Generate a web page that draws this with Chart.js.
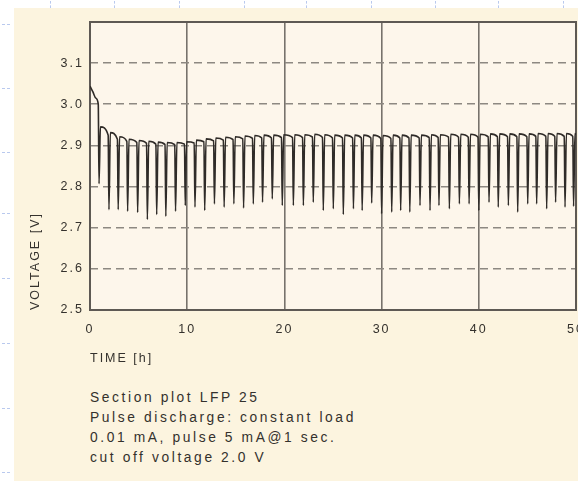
<!DOCTYPE html>
<html><head><meta charset="utf-8">
<script src="https://cdn.jsdelivr.net/npm/chart.js@4.4.1/dist/chart.umd.min.js"></script>
<style>
html,body{margin:0;padding:0;width:578px;height:481px;overflow:hidden;background:#fff;}
#panel{position:absolute;left:14px;top:8px;width:564px;height:473px;background:#fcf4df;}
#wrap{position:absolute;left:0;top:0;width:600px;height:380px;}
#caption{position:absolute;left:90px;top:388px;font:13.8px "Liberation Sans",Arial,sans-serif;letter-spacing:2.6px;line-height:20px;color:#34312d;white-space:nowrap;}
.mk{position:absolute;border-top:1px dashed #b9c9ee;width:8px;height:0;}
.mv{position:absolute;border-left:1px dashed #b9c9ee;width:0;height:7px;}
</style></head><body>
<div id="panel"></div>
<div class="mv" style="left:50px;top:1px"></div><div class="mv" style="left:114px;top:1px"></div>
<div class="mv" style="left:179px;top:1px"></div><div class="mv" style="left:244px;top:1px"></div>
<div class="mv" style="left:306px;top:1px"></div><div class="mv" style="left:371px;top:1px"></div>
<div class="mv" style="left:435px;top:1px"></div><div class="mv" style="left:498px;top:1px"></div>
<div class="mv" style="left:563px;top:1px"></div>
<div class="mk" style="left:2px;top:24px"></div><div class="mk" style="left:2px;top:88px"></div>
<div class="mk" style="left:2px;top:152px"></div><div class="mk" style="left:2px;top:213px"></div>
<div class="mk" style="left:2px;top:278px"></div><div class="mk" style="left:2px;top:343px"></div>
<div class="mk" style="left:2px;top:408px"></div><div class="mk" style="left:2px;top:472px"></div>
<div id="wrap"><canvas id="c" width="600" height="380" style="width:600px;height:380px"></canvas></div>
<div id="caption">Section plot LFP 25<br>Pulse discharge: constant load<br>0.01 mA, pulse 5 mA@1 sec.<br>cut off voltage 2.0 V</div>
<script>
const xTickLabels = ['0','10','20','30','40','50'];
const yTickLabels = ['2.5','2.6','2.7','2.8','2.9','3.0','3.1'];
const startTimes = [0, 0.3, 0.6, 0.85];
const startVolts = [3.044, 3.03, 3.015, 3.0];
const spikeTimes = [0.93,1.95,2.9,3.87,4.9,5.9,6.86,7.8,8.8,9.8,10.8,11.8,12.8,13.8,14.8,15.8,16.8,17.75,18.75,19.78,20.92,21.95,22.97,24.0,25.03,26.06,27.1,28.0,28.98,30.0,31.04,31.96,32.9,33.95,34.98,35.9,36.97,38.0,39.0,40.0,41.05,42.0,43.04,44.0,45.03,45.95,46.98,47.9,48.87,49.75];
const spikeBottoms = [2.807,2.744,2.744,2.74,2.737,2.72,2.732,2.728,2.74,
 2.754,2.75,2.742,2.758,2.75,2.758,2.748,2.758,2.762,2.77,
 2.754,2.754,2.754,2.762,2.742,2.746,2.732,2.746,2.742,2.76,
 2.734,2.738,2.742,2.738,2.754,2.742,2.754,2.746,2.758,2.758,
 2.742,2.762,2.75,2.754,2.738,2.758,2.758,2.746,2.762,2.75,2.752];
const preLevels = [3.0,2.925,2.915,2.91,2.907,2.905,2.903,2.902,2.902,
 2.903,2.906,2.909,2.911,2.913,2.914,2.916,2.917,2.918,2.918,
 2.919,2.919,2.919,2.92,2.919,2.918,2.918,2.918,2.918,2.918,
 2.917,2.917,2.918,2.918,2.918,2.919,2.919,2.92,2.92,2.92,
 2.92,2.921,2.921,2.921,2.921,2.921,2.922,2.922,2.922,2.922,2.922];
const peakLevels = [2.945,2.931,2.921,2.915,2.912,2.91,2.908,2.907,2.907,
 2.909,2.913,2.916,2.918,2.92,2.921,2.923,2.924,2.925,2.925,
 2.926,2.926,2.926,2.927,2.926,2.925,2.925,2.925,2.925,2.925,
 2.924,2.925,2.925,2.925,2.925,2.926,2.926,2.927,2.927,2.927,
 2.927,2.928,2.928,2.928,2.928,2.928,2.929,2.929,2.929,2.929,2.929];
const endTime = 50, endVolt = 2.926;

const pts = startTimes.map((t,i)=>({x:t,y:startVolts[i]}));
spikeTimes.forEach((t,k)=>{
  if (k>0) pts.push({x:t-0.08,y:preLevels[k]});
  pts.push({x:t,y:spikeBottoms[k]});
  pts.push({x:t+0.14,y:peakLevels[k]});
});
pts.push({x:endTime,y:endVolt});

const FONT = {family:'"Liberation Sans", Arial, sans-serif', size:12.5};
const bgPlugin = {
  id:'bg',
  beforeDraw(chart){
    const {ctx, chartArea:a} = chart;
    ctx.letterSpacing = '2px';
    ctx.save(); ctx.fillStyle='#fdf6eb'; ctx.fillRect(a.left,a.top,a.right-a.left,a.bottom-a.top); ctx.restore();
  },
  beforeDatasetsDraw(chart){
    const {ctx, chartArea:a} = chart;
    ctx.save(); ctx.strokeStyle='#5e5954'; ctx.lineWidth=2; ctx.setLineDash([]);
    ctx.strokeRect(a.left,a.top,a.right-a.left,a.bottom-a.top); ctx.restore();
  }
};

new Chart(document.getElementById('c'), {
  type:'line',
  data:{datasets:[{data:pts, borderColor:'#2f2b28', borderWidth:1.6, pointRadius:0, cubicInterpolationMode:'monotone', fill:false}]},
  options:{
    responsive:false, animation:false, events:[],
    layout:{padding:{left:14, right:24, top:22, bottom:10}},
    plugins:{legend:{display:false}, tooltip:{enabled:false}},
    scales:{
      x:{type:'linear', min:0, max:50,
        grid:{color:'#77726c', lineWidth:1.6, drawTicks:false},
        border:{display:false},
        ticks:{stepSize:10, padding:12, color:'#34312d', font:FONT, maxRotation:0,
          callback:(v)=>xTickLabels[Math.round(v/10)] ?? ''},
        title:{display:true, text:'TIME [h]', align:'start', color:'#34312d', font:FONT, padding:{top:8,bottom:4}},
        afterFit(s){ s.height = 60; }
      },
      y:{type:'linear', min:2.5, max:3.2,
        grid:{color:'#8d8882', lineWidth:1.6, drawTicks:false},
        border:{display:false, dash:[8,5]},
        ticks:{stepSize:0.1, padding:6, color:'#34312d', font:FONT,
          callback:(v)=>yTickLabels[Math.round((v-2.5)*10)] ?? ''},
        title:{display:true, text:'VOLTAGE [V]', align:'start', color:'#34312d', font:FONT, padding:{top:14,bottom:4}},
        afterFit(s){ s.width = 76; }
      }
    }
  },
  plugins:[bgPlugin]
});
</script>
</body></html>
